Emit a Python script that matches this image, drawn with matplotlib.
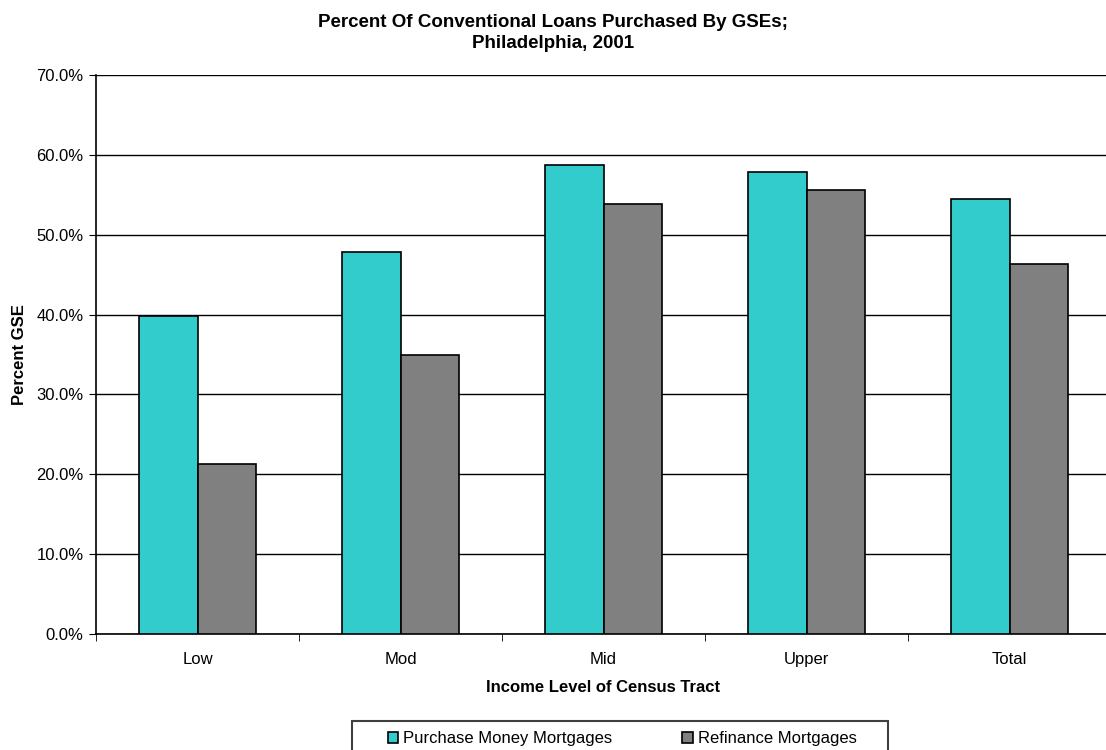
import numpy as np
import matplotlib.pyplot as plt
from matplotlib.patches import Rectangle
from matplotlib.ticker import FixedLocator, PercentFormatter

plt.rcParams['font.family'] = ['Liberation Sans', 'DejaVu Sans']

categories = ['Low', 'Mod', 'Mid', 'Upper', 'Total']
purchase = [39.8, 47.8, 58.7, 57.8, 54.5]
refinance = [21.3, 35.0, 53.8, 55.6, 46.3]

W, H = 1106, 750
fig = plt.figure(figsize=(W / 100, H / 100), dpi=100)
ax = fig.add_axes([96 / W, 1 - 634 / H, 1015 / W, (634 - 75) / H])

x = np.arange(len(categories))
w = 0.287
ax.bar(x - w / 2, purchase, w, color='#33CCCC', edgecolor='black', linewidth=1.2,
       label='Purchase Money Mortgages', zorder=3)
ax.bar(x + w / 2, refinance, w, color='#808080', edgecolor='black', linewidth=1.2,
       label='Refinance Mortgages', zorder=3)

ax.set_xlim(-0.5, len(categories) - 0.5)
ax.set_ylim(0, 70)
ax.set_yticks(np.arange(0, 71, 10))
ax.yaxis.set_major_formatter(PercentFormatter(decimals=1))
ax.yaxis.grid(True, color='black', linewidth=1)
ax.set_axisbelow(True)

ax.set_xticks(x)
ax.set_xticklabels(categories)
ax.xaxis.set_minor_locator(FixedLocator(np.arange(-0.5, len(categories), 1)))
ax.tick_params(axis='x', which='major', length=0, pad=13, labelsize=12)
ax.tick_params(axis='x', which='minor', length=5, direction='out')
ax.tick_params(axis='y', length=5, direction='out', labelsize=12, pad=4)

for s in ['top', 'right']:
    ax.spines[s].set_visible(False)
ax.spines['left'].set_linewidth(1.2)
ax.spines['bottom'].set_linewidth(1.2)

ax.set_xlabel('Income Level of Census Tract', fontweight='bold', fontsize=12, labelpad=9)
ax.set_ylabel('Percent GSE', fontweight='bold', fontsize=12)
ax.yaxis.set_label_coords(-0.068, 0.5)
fig.text(0.5, 1 - 33 / H, 'Percent Of Conventional Loans Purchased By GSEs;\nPhiladelphia, 2001',
         ha='center', va='center', fontweight='bold', fontsize=13.5, linespacing=1.25)

# legend frame drawn separately so the padding matches the original
fig.patches.append(Rectangle((352 / W, -0.02), 536 / W, 0.02 + 29 / H,
                             transform=fig.transFigure, facecolor='white',
                             edgecolor='#404040', linewidth=1.5, zorder=0))
leg = fig.legend(loc='upper left', bbox_to_anchor=(388 / W, 1 - 731 / H), ncol=2,
                 fontsize=12, frameon=False, handlelength=0.62, handleheight=0.62,
                 handletextpad=0.3, columnspacing=4.2, borderpad=0, borderaxespad=0)

fig.savefig('out.png', dpi=100)
